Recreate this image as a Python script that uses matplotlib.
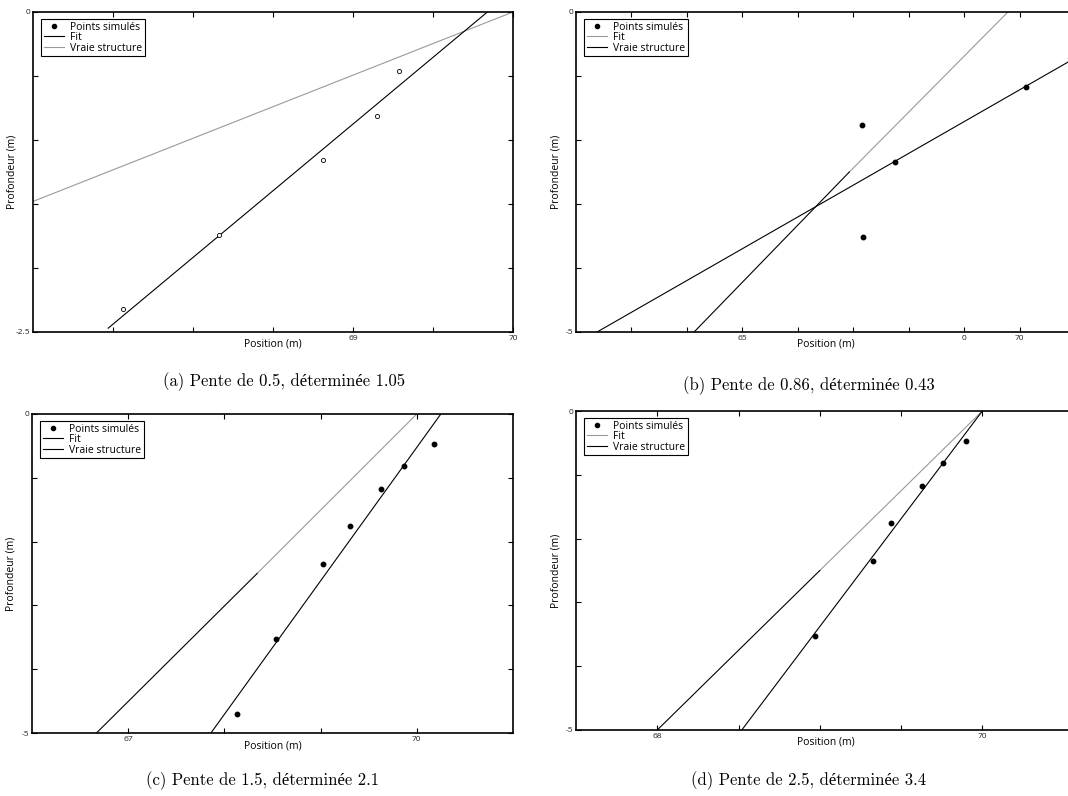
import matplotlib.pyplot as plt
from matplotlib.lines import Line2D

W, H = 1068, 796

# points simules
pts_a_x = [67.56, 68.16, 68.81, 69.15, 69.29]
pts_a_y = [-2.32, -1.74, -1.16, -0.81, -0.46]
pts_b_x = [67.15, 67.76, 67.18, 70.11]
pts_b_y = [-1.76, -2.35, -3.52, -1.17]
pts_c_x = [68.13, 68.54, 69.02, 69.31, 69.63, 69.87, 70.18]
pts_c_y = [-4.70, -3.53, -2.35, -1.76, -1.18, -0.82, -0.47]
pts_d_x = [68.97, 69.33, 69.44, 69.63, 69.76, 69.90]
pts_d_y = [-3.52, -2.35, -1.76, -1.17, -0.82, -0.47]

# droites (extremites)
fit_a = ([67.47, 69.84], [-2.47, 0.0])
fit_b = ([62.38, 71.0], [-5.0, -0.72])
fit_c = ([67.86, 70.25], [-5.0, 0.0])
fit_d = ([68.52, 70.0], [-5.0, 0.0])

vraie_gris_a = ([67.0, 70.0], [-1.48, 0.0])
vraie_noir_a = ([], [])
vraie_gris_b = ([66.93, 69.79], [-2.5, 0.0])
vraie_noir_b = ([64.13, 66.93], [-5.0, -2.5])
vraie_gris_c = ([68.34, 70.0], [-2.5, 0.0])
vraie_noir_c = ([66.67, 68.34], [-5.0, -2.5])
vraie_gris_d = ([69.0, 70.0], [-2.5, 0.0])
vraie_noir_d = ([68.0, 69.0], [-5.0, -2.5])

legendes = ['Points simulés', 'Fit', 'Vraie structure']
titres = ['(a) Pente de 0.5, déterminée 1.05',
          '(b) Pente de 0.86, déterminée 0.43',
          '(c) Pente de 1.5, déterminée 2.1',
          '(d) Pente de 2.5, déterminée 3.4']

GRIS = '#9a9a9a'
SANS = ['Open Sans', 'DejaVu Sans']
SERIF = ['cmr10', 'Liberation Serif']


def boite(l, r, t, b):
    return [l / W, 1 - b / H, (r - l) / W, (b - t) / H]


def panneau(fig, rect, xlim, ylim, xticks, xlabels, yticks, ylabels,
            px, py, creux, fit, gris, noir, couleurs_leg):
    ax = fig.add_axes(rect)
    ax.plot(gris[0], gris[1], color=GRIS, lw=0.8)
    ax.plot(noir[0], noir[1], color='k', lw=0.8)
    ax.plot(fit[0], fit[1], color='k', lw=0.8)
    if creux:
        ax.plot(px, py, 'o', ms=3, mfc='white', mec='k', mew=0.6, ls='none')
    else:
        ax.plot(px, py, 'o', ms=3.2, color='k', ls='none')
    ax.set_xlim(*xlim)
    ax.set_ylim(*ylim)
    ax.set_xticks(xticks)
    ax.set_xticklabels(xlabels)
    ax.set_yticks(yticks)
    ax.set_yticklabels(ylabels)
    ax.tick_params(direction='in', top=True, right=True, length=3.5,
                   width=0.8, labelsize=6, pad=2, labelcolor='#222222')
    for lab in ax.get_xticklabels() + ax.get_yticklabels():
        lab.set_family(SANS)
    for s in ax.spines.values():
        s.set_linewidth(1.2)
    ax.set_xlabel('Position (m)', fontsize=7.5, family=SANS, labelpad=-2)
    ax.set_ylabel('Profondeur (m)', fontsize=7.5, family=SANS)
    largeur = rect[2] * W
    ax.yaxis.set_label_coords(-15 / largeur, 0.5)

    poignees = [Line2D([], [], marker='o', ms=3, color='k', ls='none'),
                Line2D([], [], color=couleurs_leg[0], lw=0.8),
                Line2D([], [], color=couleurs_leg[1], lw=0.8)]
    leg = ax.legend(poignees, legendes, loc='upper left',
                    bbox_to_anchor=(0.017, 0.978), borderaxespad=0,
                    prop={'family': SANS, 'size': 7.5}, labelspacing=-0.05,
                    handlelength=1.9, handletextpad=0.6, borderpad=0.25,
                    fancybox=False, framealpha=1, edgecolor='k')
    leg.get_frame().set_linewidth(0.8)
    return ax


fig = plt.figure(figsize=(W / 100, H / 100), dpi=100)

panneau(fig, boite(33, 513, 12, 332), (67, 70), (-2.5, 0),
        [67.5, 68, 68.5, 69, 69.5, 70], ['', '', '', '69', '', '70'],
        [0, -0.5, -1, -1.5, -2, -2.5], ['0', '', '', '', '', '-2.5'],
        pts_a_x, pts_a_y, True, fit_a, vraie_gris_a, vraie_noir_a,
        ['k', GRIS])
panneau(fig, boite(576, 1075, 12, 332), (62, 71), (-5, 0),
        [63, 64, 65, 66, 67, 68, 69, 70], ['', '', '65', '', '', '', '0', '70'],
        [0, -1, -2, -3, -4, -5], ['0', '', '', '', '', '-5'],
        pts_b_x, pts_b_y, False, fit_b, vraie_gris_b, vraie_noir_b,
        [GRIS, 'k'])
panneau(fig, boite(32, 513, 414, 733), (66, 71), (-5, 0),
        [67, 68, 69, 70], ['67', '', '', '70'],
        [0, -1, -2, -3, -4, -5], ['0', '', '', '', '', '-5'],
        pts_c_x, pts_c_y, False, fit_c, vraie_gris_c, vraie_noir_c,
        ['k', 'k'])
panneau(fig, boite(576, 1075, 411, 730), (67.5, 70.57), (-5, 0),
        [68, 68.5, 69, 69.5, 70], ['68', '', '', '', '70'],
        [0, -1, -2, -3, -4, -5], ['0', '', '', '', '', '-5'],
        pts_d_x, pts_d_y, False, fit_d, vraie_gris_d, vraie_noir_d,
        [GRIS, 'k'])

pos_titres = [(284, 382), (809, 386), (263, 781), (809, 781)]
for t, (x, y) in zip(titres, pos_titres):
    fig.text(x / W, 1 - y / H, t, ha='center', va='center',
             fontsize=12, family=SERIF)

fig.savefig('out.png', dpi=100)
